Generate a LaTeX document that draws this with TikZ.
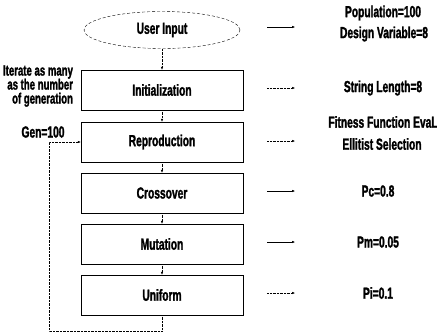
\documentclass[tikz,border=0pt]{standalone}
\usepackage{fontspec}
\setmainfont{Liberation Sans}[FakeStretch=0.64,BoldFont={Liberation Sans Bold},BoldFeatures={FakeStretch=0.64,FakeBold=1.5}]
\usetikzlibrary{arrows.meta,shapes.geometric}
\begin{document}
\begin{tikzpicture}[x=1pt,y=-1pt,
  stage/.style={draw,thin,minimum width=162pt,minimum height=40pt,font=\fontsize{16}{16}\selectfont\bfseries},
  note/.style={font=\fontsize{16}{16}\selectfont\bfseries,inner sep=0pt},
  flow/.style={densely dotted,-{Latex[length=3pt,width=2.5pt]}},
  tip/.style={-{Latex[length=3pt,width=2.5pt]}}]
\useasboundingbox (0,0) rectangle (437,333);
% the stages
\node[ellipse,draw,densely dashed,minimum width=156pt,minimum height=37pt,font=\fontsize{16}{16}\selectfont\bfseries] (input) at (162,30) {User Input};
\node[stage] (init) at (162,90) {Initialization};
\node[stage] (repro) at (162,142) {Reproduction};
\node[stage] (cross) at (162,193) {Crossover};
\node[stage] (mut) at (162,244) {Mutation};
\node[stage] (unif) at (162,295) {Uniform};
\draw[flow] (input) -- (init);
\draw[flow] (init) -- (repro);
\draw[flow] (repro) -- (cross);
\draw[flow] (cross) -- (mut);
\draw[flow] (mut) -- (unif);
% loop back
\coordinate (corner) at (49,331);
\draw[flow] (unif.south) |- (corner) |- (repro.west);
\node[note] (gen) at (43,132) {Gen=100};
\node[note,align=right,font=\fontsize{15}{14}\selectfont\bfseries] (iter) at (38,86) {Iterate as many\\as the number\\of generation};
% parameters
\foreach \n/\y in {a/27,b/88,c/141,d/191,e/242,f/293} {
  \coordinate (s\n) at (267,\y);
  \coordinate (e\n) at (295,\y);
}
\draw[tip] (sa) -- (ea);
\draw[tip,densely dotted] (sb) -- (eb);
\draw[tip,densely dotted] (sc) -- (ec);
\draw[tip] (sd) -- (ed);
\draw[tip] (se) -- (ee);
\draw[tip,densely dotted] (sf) -- (ef);
\node[note] (pop) at (383,13) {Population=100};
\node[note] (var) at (384,34) {Design Variable=8};
\node[note] (len) at (383,88) {String Length=8};
\node[note] (fit) at (383,122) {Fitness Function EvaL};
\node[note] (sel) at (382,144) {Ellitist Selection};
\node[note] (pc) at (378,191) {Pc=0.8};
\node[note] (pm) at (378,242) {Pm=0.05};
\node[note] (pi) at (378,293) {Pi=0.1};
\end{tikzpicture}
\end{document}
